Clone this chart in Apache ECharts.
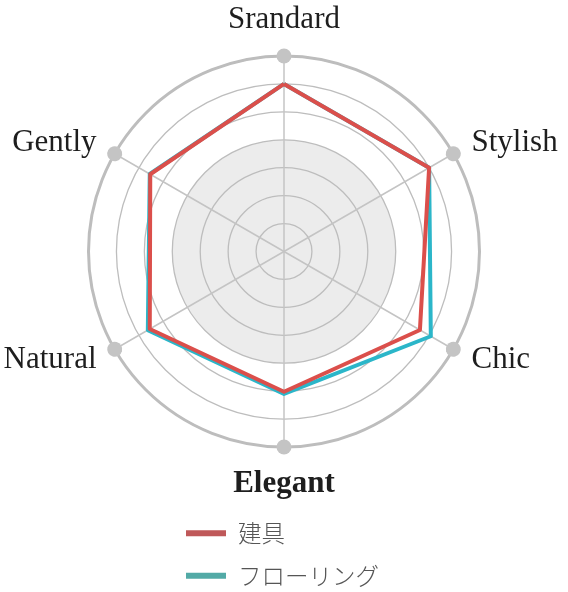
<!DOCTYPE html>
<html><head><meta charset="utf-8">
<script src="https://cdn.jsdelivr.net/npm/echarts@6/dist/echarts.min.js"></script>
<style>html,body{margin:0;padding:0;background:#fff}#c{width:568px;height:592px}</style>
</head><body><div id="c"></div>
<script>
// clockwise from the top
var indicators = ['Srandard', 'Stylish', 'Chic', 'Elegant', 'Natural', 'Gently'];
var maxValue = 7;
var seriesNames = ['建具', 'フローリング'];
var tateguValues = [6, 6, 5.62, 5.02, 5.55, 5.53];
var flooringValues = [6, 6, 6.07, 5.1, 5.63, 5.55];
var lineColors = ['#db4f4b', '#2bb6c9'];
var legendColors = ['#bf5859', '#52aaa6'];

// ECharts lays indicators counter-clockwise; reorder so they read clockwise
function cw(arr) { return [arr[0]].concat(arr.slice(1).reverse()); }

var chart = echarts.init(document.getElementById('c'));
var ind = cw(indicators).map(function (n) { return { name: n, max: maxValue }; });
var ringColors = ['#ececec', '#ececec', '#ececec', '#ececec', 'rgba(0,0,0,0)', 'rgba(0,0,0,0)', 'rgba(0,0,0,0)'];
chart.setOption({
  animation: false,
  legend: {
    orient: 'vertical',
    left: 186,
    top: 521.5,
    height: 70,
    padding: 0,
    itemWidth: 40,
    itemHeight: 6,
    itemGap: 19,
    icon: 'rect',
    textStyle: { fontFamily: 'Noto Sans CJK JP', fontSize: 23.5, color: '#555', fontWeight: 300, padding: [0, 0, 0, 7] },
    data: seriesNames.map(function (n, i) {
      return { name: n, itemStyle: { color: legendColors[i] } };
    })
  },
  radar: [{
    center: [284, 251.5],
    radius: 195.5,
    startAngle: 90,
    shape: 'circle',
    splitNumber: 7,
    indicator: ind,
    axisName: {
      color: '#1e1e1e',
      fontFamily: 'Liberation Serif',
      fontSize: 31,
      formatter: function (v) { return v === 'Elegant' ? '{b|' + v + '}' : v; },
      rich: { b: { fontFamily: 'Liberation Serif', fontSize: 31, fontWeight: 'bold', color: '#1e1e1e' } }
    },
    nameGap: 21,
    axisLine: { lineStyle: { color: '#c4c4c4', width: 1.5 }, symbol: ['none', 'circle'], symbolSize: [15, 15] },
    splitLine: { lineStyle: { color: '#bdbdbd', width: 1.3 } },
    splitArea: { show: true, areaStyle: { color: ringColors } }
  }, {
    center: [284, 251.5],
    radius: 195.5,
    startAngle: 90,
    shape: 'circle',
    splitNumber: 1,
    indicator: ind,
    axisName: { show: false },
    axisLine: { show: false },
    splitLine: { lineStyle: { color: '#bdbdbd', width: 3 } },
    splitArea: { show: false }
  }],
  series: [{
    type: 'radar',
    radarIndex: 0,
    symbol: 'none',
    z: 3,
    data: [
      { name: seriesNames[1], value: cw(flooringValues), lineStyle: { color: lineColors[1], width: 4 }, itemStyle: { color: lineColors[1] } },
      { name: seriesNames[0], value: cw(tateguValues), lineStyle: { color: lineColors[0], width: 4 }, itemStyle: { color: lineColors[0] } }
    ]
  }]
});
</script></body></html>
